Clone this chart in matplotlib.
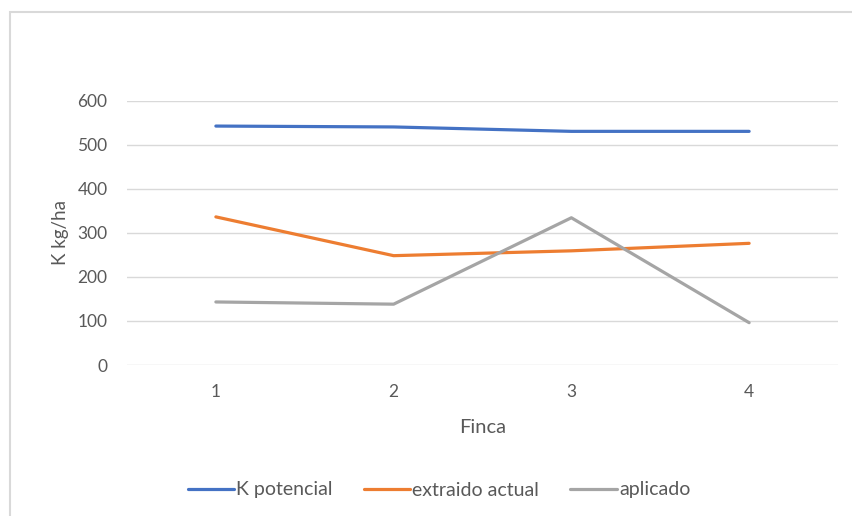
import matplotlib
matplotlib.use("Agg")
import matplotlib.pyplot as plt
from matplotlib.patches import Rectangle

plt.rcParams['font.family'] = ['Lato', 'DejaVu Sans']

fincas = ['1', '2', '3', '4']
k_potencial = [542, 540, 530, 530]
extraido_actual = [336, 248, 259, 276]
aplicado = [143, 138, 334, 96]

txt = '#595959'
grid = '#d9d9d9'

fig = plt.figure(figsize=(8.52, 5.16), dpi=100)
# plot area in pixel terms: x 127..838, y 100..365 (from top)
ax = fig.add_axes([127 / 852, 1 - 365 / 516, (838 - 127) / 852, (365 - 100.5) / 516])

x = range(len(fincas))
ax.plot(x, k_potencial, color='#4472C4', lw=2.3, solid_capstyle='round', label='K potencial')
ax.plot(x, extraido_actual, color='#ED7D31', lw=2.3, solid_capstyle='round', label='extraido actual')
ax.plot(x, aplicado, color='#A5A5A5', lw=2.3, solid_capstyle='round', label='aplicado')

ax.set_xlim(-0.5, len(fincas) - 0.5)
ax.set_ylim(0, 600)
ax.set_yticks(range(0, 601, 100))
ax.set_xticks(list(x))
ax.set_xticklabels(fincas)
ax.yaxis.grid(True, color=grid, lw=1)
ax.set_axisbelow(True)
for s in ax.spines.values():
    s.set_visible(False)
ax.tick_params(length=0, colors=txt, labelsize=12.5)
ax.tick_params(axis='y', pad=14)
ax.tick_params(axis='x', pad=14)

ax.set_ylabel('K kg/ha', color=txt, fontsize=13.5, labelpad=6)
ax.set_xlabel('Finca', color=txt, fontsize=14.5, labelpad=13)

fig.legend(loc='center', bbox_to_anchor=(439 / 852, 1 - 490 / 516), ncol=3, frameon=False,
           fontsize=14, handlelength=2.4, handletextpad=0.1, columnspacing=1.6,
           labelcolor=txt)

# chart border, clipped by the figure on the right and bottom
fig.patches.append(Rectangle((10 / 852, -0.1), 1.2, 1 - 12 / 516 + 0.1,
                             transform=fig.transFigure, fill=False,
                             edgecolor=grid, lw=1.5))

fig.savefig('out.png', dpi=100)
